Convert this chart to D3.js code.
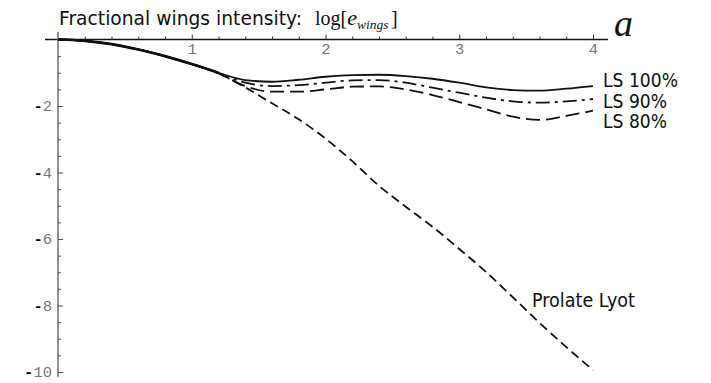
<!DOCTYPE html>
<html><head><meta charset="utf-8">
<script src="https://cdn.jsdelivr.net/npm/d3@7"></script>
<style>body{margin:0;background:#fff}svg{display:block}</style>
</head><body>
<svg id="c" width="711" height="383"></svg>
<script>
const aValues = [0,0.2,0.4,0.6,0.8,1.0,1.2,1.4,1.6,1.8,2.0,2.2,2.4,2.6,2.8,3.0,3.2,3.4,3.6,3.8,4.0];
const ls100 = [0,-0.04,-0.14,-0.30,-0.50,-0.74,-1.00,-1.22,-1.27,-1.21,-1.12,-1.07,-1.06,-1.10,-1.18,-1.30,-1.44,-1.52,-1.54,-1.48,-1.40];
const ls90  = [0,-0.04,-0.14,-0.30,-0.50,-0.74,-1.01,-1.30,-1.40,-1.37,-1.30,-1.23,-1.22,-1.30,-1.45,-1.60,-1.75,-1.86,-1.90,-1.86,-1.79];
const ls80  = [0,-0.04,-0.14,-0.30,-0.50,-0.74,-1.02,-1.40,-1.57,-1.57,-1.50,-1.42,-1.41,-1.50,-1.67,-1.88,-2.10,-2.32,-2.42,-2.30,-2.14];
const prolate = [0,-0.04,-0.14,-0.30,-0.50,-0.74,-1.02,-1.44,-1.92,-2.40,-2.98,-3.66,-4.40,-5.03,-5.63,-6.30,-6.99,-7.75,-8.52,-9.25,-9.94];
const seriesNames = ["LS 100%","LS 90%","LS 80%","Prolate Lyot"];
const xTicks = [1,2,3,4];
const yTicks = [-2,-4,-6,-8,-10];

const svg = d3.select("#c");
const x = d3.scaleLinear().domain([0,4]).range([58,593]);
const y = d3.scaleLinear().domain([0,-10]).range([39.5,372]);

// axes lines
svg.append("line").attr("x1",45).attr("x2",608).attr("y1",y(0)).attr("y2",y(0)).attr("stroke","#111").attr("stroke-width",1.3);
svg.append("line").attr("x1",x(0)).attr("x2",x(0)).attr("y1",32).attr("y2",377).attr("stroke","#777").attr("stroke-width",1.6);

// x axis ticks
const xMinor = d3.range(0.2,4.01,0.2).filter(v=>Math.abs(v-Math.round(v))>1e-6);
const gxm = svg.append("g").attr("transform",`translate(0,${y(0)})`)
  .call(d3.axisBottom(x).tickValues(xMinor).tickSizeInner(-3).tickSizeOuter(0).tickFormat(""));
const gx = svg.append("g").attr("transform",`translate(0,${y(0)})`)
  .call(d3.axisBottom(x).tickValues(xTicks).tickSizeInner(-5).tickSizeOuter(0).tickPadding(3).tickFormat(d3.format("d")));
[gxm,gx].forEach(g=>{g.select(".domain").remove(); g.selectAll("line").attr("stroke","#333");});
gx.selectAll("text").attr("font-family","Liberation Mono, monospace").attr("font-size",15.5).attr("fill","#777");

// y axis ticks
const yMinor = d3.range(-0.5,-10.01,-0.5).filter(v=>Math.abs(v/2-Math.round(v/2))>1e-6);
const gym = svg.append("g").attr("transform",`translate(${x(0)},0)`)
  .call(d3.axisLeft(y).tickValues(yMinor).tickSizeInner(-3).tickSizeOuter(0).tickFormat(""));
const gy = svg.append("g").attr("transform",`translate(${x(0)},0)`)
  .call(d3.axisLeft(y).tickValues(yTicks).tickSizeInner(-5).tickSizeOuter(0).tickPadding(6).tickFormat(""));
[gym,gy].forEach(g=>{g.select(".domain").remove(); g.selectAll("line").attr("stroke","#555");});
gy.selectAll("g.tick").each(function(d){
  const t = d3.select(this).select("text").attr("font-family","Liberation Mono, monospace").attr("font-size",15.5).attr("fill","#777");
  t.append("tspan").attr("fill","#000").attr("font-weight","bold").text("-");
  t.append("tspan").text(String(Math.abs(d)));
});

// curves
const line = d3.line().x((d,i)=>x(aValues[i])).y(d=>y(d)).curve(d3.curveMonotoneX);
const styles = [
  {data:ls100, dash:null},
  {data:ls90, dash:"14,5,3,5"},
  {data:ls80, dash:"14,6"},
  {data:prolate, dash:"9,5"}
];
styles.slice().reverse().forEach(s=>{
  svg.append("path").attr("d",line(s.data)).attr("fill","none").attr("stroke","#111")
    .attr("stroke-width",1.8).attr("stroke-dasharray",s.dash);
});
// thicker common trunk
svg.append("path").attr("d",line(ls100.slice(0,7))).attr("fill","none").attr("stroke","#111").attr("stroke-width",2.6);

// labels
const lab = svg.append("g").attr("font-family","DejaVu Sans, sans-serif").attr("font-size",19).attr("fill","#111");
lab.append("text").attr("x",603).attr("y",87).attr("textLength",75).attr("lengthAdjust","spacingAndGlyphs").text(seriesNames[0]);
lab.append("text").attr("x",603).attr("y",108).attr("textLength",64).attr("lengthAdjust","spacingAndGlyphs").text(seriesNames[1]);
lab.append("text").attr("x",603).attr("y",128).attr("textLength",64).attr("lengthAdjust","spacingAndGlyphs").text(seriesNames[2]);
lab.append("text").attr("x",532).attr("y",307).attr("textLength",103).attr("lengthAdjust","spacingAndGlyphs").text(seriesNames[3]);

// title
const title = svg.append("text").attr("x",59).attr("y",25).attr("fill","#111");
title.append("tspan").attr("font-family","DejaVu Sans, sans-serif").attr("font-size",19.5).attr("textLength",243).attr("lengthAdjust","spacingAndGlyphs").text("Fractional wings intensity:");
title.append("tspan").attr("font-family","Liberation Serif, serif").attr("font-size",20).attr("x",315).text("log[");
title.append("tspan").attr("font-family","Liberation Serif, serif").attr("font-style","italic").attr("font-size",22).text("e");
title.append("tspan").attr("font-family","Liberation Serif, serif").attr("font-style","italic").attr("font-size",13.5).attr("dy",4).text("wings");
title.append("tspan").attr("font-family","Liberation Serif, serif").attr("font-size",20).attr("dy",-4).attr("x",391).text("]");

svg.append("text").attr("x",614).attr("y",36).attr("font-family","Liberation Serif, serif").attr("font-style","italic").attr("font-size",38).attr("fill","#111").text("a");
</script>
</body></html>
